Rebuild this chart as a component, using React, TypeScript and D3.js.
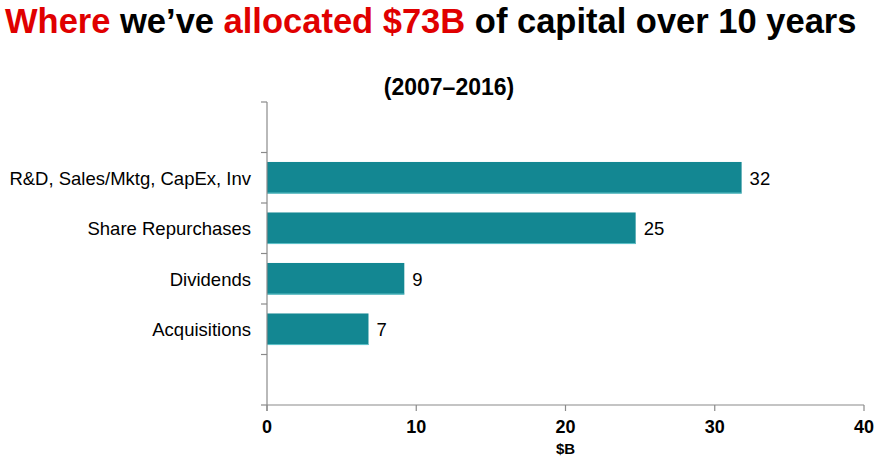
import React from "react";
import * as d3 from "d3";

const categories = ["R&D, Sales/Mktg, CapEx, Inv", "Share Repurchases", "Dividends", "Acquisitions"];
const values = [31.8, 24.7, 9.2, 6.8];
const valueLabels = ["32", "25", "9", "7"];
const xTicks = [0, 10, 20, 30, 40];

const W = 880;
const H = 459;
const margin = { left: 267, right: 16, top: 102, bottom: 54 };

export default function App() {
  const x = d3.scaleLinear().domain([0, 40]).range([margin.left, W - margin.right]);
  // empty bands above and below the bars, as in the reference
  const bandDomain = ["__top", ...categories, "__bottom"];
  const y = d3
    .scaleBand()
    .domain(bandDomain)
    .range([margin.top, H - margin.bottom])
    .paddingInner(0.375)
    .paddingOuter(0.1875);
  const yEdges = d3.range(bandDomain.length + 1).map(
    (i) => margin.top + (i * (H - margin.bottom - margin.top)) / bandDomain.length
  );
  const font = "'Liberation Sans', Arial, sans-serif";
  const axisColor = "#8a8a8a";
  const x0 = x(0);
  const yBottom = H - margin.bottom;

  return (
    <svg width={W} height={H} style={{ position: "absolute", left: 0, top: 0 }} fontFamily={font}>
      <rect width={W} height={H} fill="#fff" />
      <text x={5} y={33} fontSize={34.5} fontWeight="bold" fill="#000">
        <tspan fill="#e00000">Where</tspan> we’ve <tspan fill="#e00000">allocated $73B</tspan> of capital over 10 years
      </text>
      <text x={449} y={95} fontSize={23} fontWeight="bold" textAnchor="middle">
        (2007–2016)
      </text>

      {categories.map((c, i) => (
        <g key={c}>
          <rect
            x={x0}
            y={y(c)!}
            width={x(values[i]) - x0}
            height={y.bandwidth()}
            fill="#138792"
          />
          <line
            x1={x0}
            x2={x(values[i])}
            y1={y(c)! + y.bandwidth() - 0.5}
            y2={y(c)! + y.bandwidth() - 0.5}
            stroke="#5fc3c9"
            strokeWidth={1}
          />
          <text x={x0 - 16} y={y(c)! + y.bandwidth() / 2 + 7} fontSize={18.5} textAnchor="end">
            {c}
          </text>
          <text x={x(values[i]) + 8} y={y(c)! + y.bandwidth() / 2 + 7} fontSize={18.5}>
            {valueLabels[i]}
          </text>
        </g>
      ))}

      {/* y axis */}
      <line x1={x0} x2={x0} y1={margin.top} y2={yBottom + 6} stroke={axisColor} strokeWidth={1.2} />
      {yEdges.map((v) => (
        <line key={v} x1={x0 - 6} x2={x0} y1={v} y2={v} stroke={axisColor} strokeWidth={1.2} />
      ))}

      {/* x axis */}
      <line x1={x0} x2={x(40)} y1={yBottom} y2={yBottom} stroke={axisColor} strokeWidth={1.2} />
      {xTicks.map((t) => (
        <g key={t}>
          <line x1={x(t)} x2={x(t)} y1={yBottom} y2={yBottom + 6} stroke={axisColor} strokeWidth={1.2} />
          <text x={x(t)} y={yBottom + 28} fontSize={18} fontWeight="bold" textAnchor="middle">
            {t}
          </text>
        </g>
      ))}
      <text x={x(20)} y={yBottom + 49} fontSize={15} fontWeight="bold" textAnchor="middle">
        $B
      </text>
    </svg>
  );
}
